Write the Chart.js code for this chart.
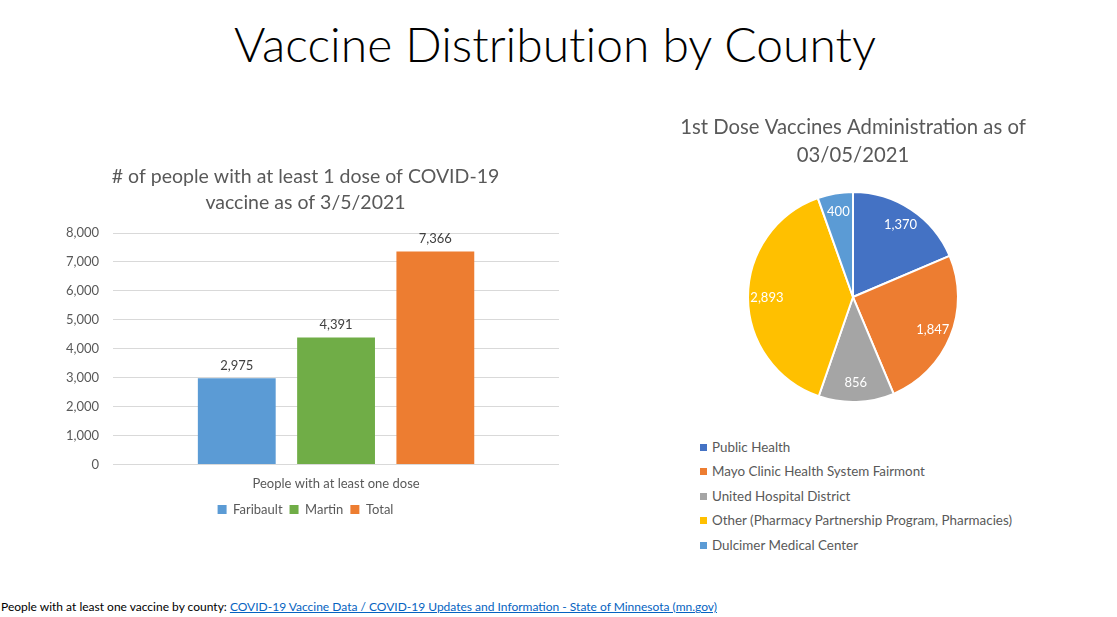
<!DOCTYPE html>
<html>
<head>
<meta charset="utf-8">
<script src="https://cdn.jsdelivr.net/npm/chart.js@4.4.1/dist/chart.umd.min.js"></script>
<style>
  html, body { margin:0; padding:0; background:#fff; width:1117px; height:617px; overflow:hidden; }
  body { position:relative; font-family: Lato, "Open Sans", sans-serif; }
  #mainTitle { position:absolute; left:0; width:1110px; top:15px; text-align:center; font-size:48px; font-weight:300; color:#000; font-variant-ligatures:none; line-height:58px; }
  #barWrap { position:absolute; left:42px; top:157px; width:537px; height:369px; }
  #pieWrap { position:absolute; left:643px; top:100px; width:420px; height:310px; }
  #pieLegend { position:absolute; left:700px; top:438px; font-size:13.4px; color:#595959; }
  #pieLegend div { height:24.4px; line-height:18px; white-space:nowrap; }
  #pieLegend span.box { display:inline-block; width:7px; height:7px; margin-right:5px; vertical-align:1px; }
  #footer { position:absolute; left:1px; top:599px; font-size:12px; color:#000; white-space:nowrap; }
  #footer a { color:#0563C1; text-decoration:underline; }
</style>
</head>
<body>
<div id="mainTitle">Vaccine Distribution by County</div>
<div id="barWrap"><canvas id="bar"></canvas></div>
<div id="pieWrap"><canvas id="pie"></canvas></div>
<div id="pieLegend"></div>
<div id="footer">People with at least one vaccine by county: <a href="#">COVID-19 Vaccine Data / COVID-19 Updates and Information - State of Minnesota (mn.gov)</a></div>
<script>
// ---- Data ----
const barCategories = ["People with at least one dose"];
const barSeriesNames = ["Faribault", "Martin", "Total"];
const barValues = [2975, 4391, 7366];
const barColors = ["#5B9BD5", "#70AD47", "#ED7D31"];
const barTitle = ["# of people with at least 1 dose of COVID-19", "vaccine as of 3/5/2021"];
const yTicks = [0, 1000, 2000, 3000, 4000, 5000, 6000, 7000, 8000];

const pieLabels = ["Public Health", "Mayo Clinic Health System Fairmont", "United Hospital District", "Other (Pharmacy Partnership Program, Pharmacies)", "Dulcimer Medical Center"];
const pieValues = [1370, 1847, 856, 2893, 400];
const pieColors = ["#4472C4", "#ED7D31", "#A5A5A5", "#FFC000", "#5B9BD5"];
const pieTitle = ["1st Dose Vaccines Administration as of", "03/05/2021"];

const fmt = v => v.toLocaleString("en-US");
Chart.defaults.font.family = "Lato, 'Open Sans', sans-serif";
Chart.defaults.color = "#595959";
Chart.defaults.animation = false;

const barLabelPlugin = {
  id: "barLabels",
  afterDatasetsDraw(chart) {
    const ctx = chart.ctx;
    ctx.save();
    ctx.font = "13px Lato, 'Open Sans', sans-serif";
    ctx.fillStyle = "#404040";
    ctx.textAlign = "center";
    ctx.textBaseline = "bottom";
    chart.data.datasets.forEach((ds, i) => {
      const meta = chart.getDatasetMeta(i);
      meta.data.forEach((el, j) => {
        ctx.fillText(fmt(ds.data[j]), el.x, el.y - 6);
      });
    });
    ctx.restore();
  }
};

new Chart(document.getElementById("bar"), {
  type: "bar",
  data: {
    labels: barCategories,
    datasets: barSeriesNames.map((n, i) => ({
      label: n,
      data: [barValues[i]],
      backgroundColor: barColors[i],
      categoryPercentage: 0.668,
      barPercentage: 0.784
    }))
  },
  options: {
    responsive: true,
    maintainAspectRatio: false,
    layout: { padding: { left: 10, right: 20, top: 0, bottom: 0 } },
    plugins: {
      title: { display: true, text: barTitle, font: { size: 19.5, weight: "normal", lineHeight: 1.36 }, color: "#595959", padding: { top: 6, bottom: 17 } },
      legend: { position: "bottom", labels: { boxWidth: 9, boxHeight: 9, font: { size: 13 }, color: "#595959", padding: 7 } },
      tooltip: { enabled: false }
    },
    scales: {
      x: {
        grid: { display: false },
        border: { display: false },
        ticks: { font: { size: 13 }, color: "#595959", padding: 4 }
      },
      y: {
        min: 0, max: 8000,
        afterBuildTicks: axis => { axis.ticks = yTicks.map(v => ({ value: v })); },
        grid: { color: "#D9D9D9", drawTicks: false },
        border: { display: false },
        ticks: { font: { size: 13 }, color: "#595959", padding: 14, callback: v => fmt(v) }
      }
    }
  },
  plugins: [barLabelPlugin]
});

const pieLabelPlugin = {
  id: "pieLabels",
  afterDatasetsDraw(chart) {
    const ctx = chart.ctx;
    const meta = chart.getDatasetMeta(0);
    ctx.save();
    ctx.font = "13px Lato, 'Open Sans', sans-serif";
    ctx.fillStyle = "#ffffff";
    ctx.textAlign = "center";
    ctx.textBaseline = "middle";
    meta.data.forEach((arc, i) => {
      const mid = (arc.startAngle + arc.endAngle) / 2;
      const r = arc.outerRadius * 0.82;
      ctx.fillText(fmt(pieValues[i]), arc.x + Math.cos(mid) * r, arc.y + Math.sin(mid) * r);
    });
    ctx.restore();
  }
};

new Chart(document.getElementById("pie"), {
  type: "pie",
  data: {
    labels: pieLabels,
    datasets: [{ data: pieValues, backgroundColor: pieColors, borderColor: "#ffffff", borderWidth: 2 }]
  },
  options: {
    responsive: true,
    maintainAspectRatio: false,
    layout: { padding: { bottom: 7 } },
    plugins: {
      title: { display: true, text: pieTitle, font: { size: 20.3, weight: "normal", lineHeight: 1.38 }, color: "#595959", padding: { top: 13, bottom: 22 } },
      legend: { display: false },
      tooltip: { enabled: false }
    }
  },
  plugins: [pieLabelPlugin]
});

// HTML legend built from the pie arrays
const lg = document.getElementById("pieLegend");
pieLabels.forEach((l, i) => {
  const d = document.createElement("div");
  const b = document.createElement("span");
  b.className = "box"; b.style.background = pieColors[i];
  d.appendChild(b);
  d.appendChild(document.createTextNode(l));
  lg.appendChild(d);
});
</script>
</body>
</html>
